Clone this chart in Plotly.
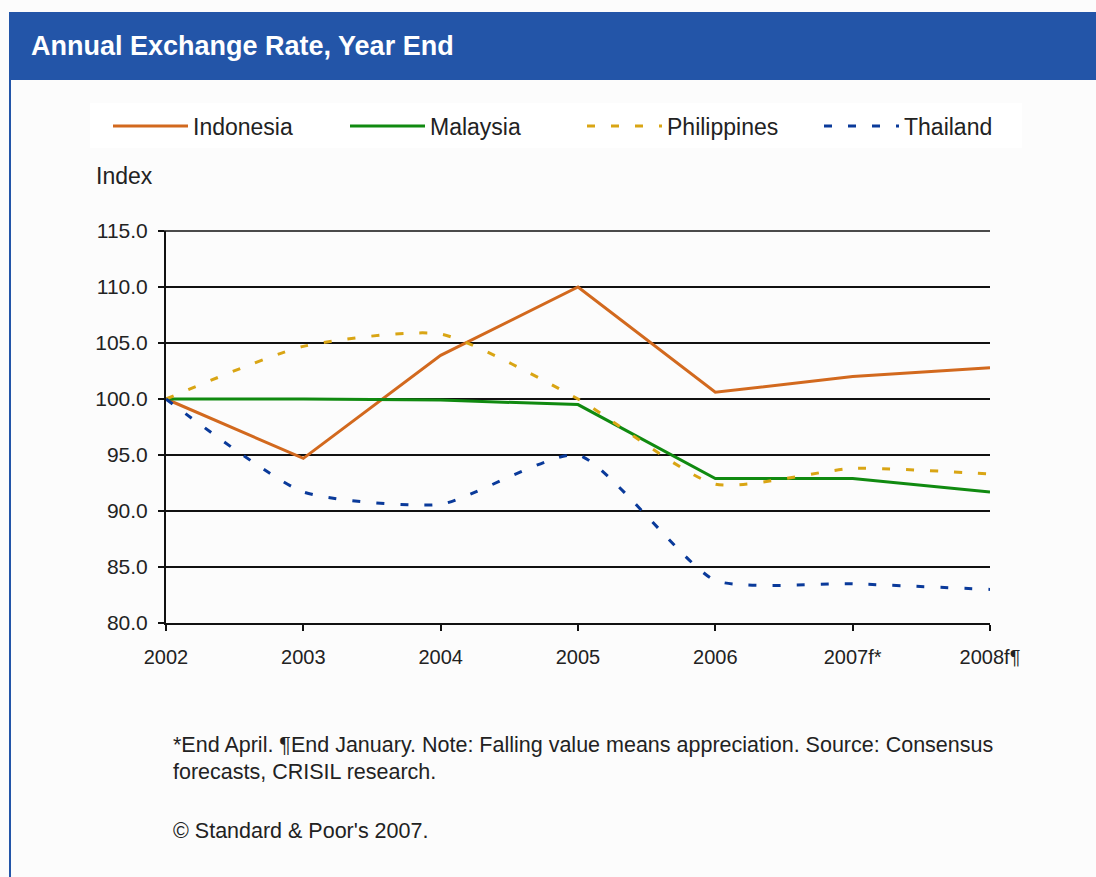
import plotly.graph_objects as go

# ---- data ----
years = [2002, 2003, 2004, 2005, 2006, 2007, 2008]
year_labels = ["2002", "2003", "2004", "2005", "2006", "2007f*", "2008f¶"]
indonesia = [100.0, 94.7, 103.9, 110.0, 100.6, 102.0, 102.8]
malaysia = [100.0, 100.0, 99.9, 99.5, 92.9, 92.9, 91.7]
philippines = [100.0, 104.7, 105.8, 100.0, 92.4, 93.8, 93.3]
thailand = [100.0, 91.7, 90.6, 95.0, 83.8, 83.5, 83.0]
y_min, y_max = 80, 115

# ---- layout geometry (pixels) ----
W, H = 1096, 877
L, R, T, B = 166, 990, 231, 623
PW, PH = R - L, B - T

def px(x):
    return (x - L) / PW

def py(y):
    return (B - y) / PH

FONT = "Liberation Sans, Arial, sans-serif"
TXT = "#222222"
BG = "#FCFCFC"

fig = go.Figure()
fig.add_trace(go.Scatter(x=years, y=indonesia, name="Indonesia", mode="lines",
                         line=dict(color="#D2691E", width=3)))
fig.add_trace(go.Scatter(x=years, y=malaysia, name="Malaysia", mode="lines",
                         line=dict(color="#108A10", width=3)))
fig.add_trace(go.Scatter(x=years, y=philippines, name="Philippines", mode="lines",
                         line=dict(color="#D9A514", width=3, dash="8px,16px",
                                   shape="spline", smoothing=0.6)))
fig.add_trace(go.Scatter(x=years, y=thailand, name="Thailand", mode="lines",
                         line=dict(color="#0A3A9A", width=3, dash="8px,16px",
                                   shape="spline", smoothing=0.55)))

shapes = [
    # header bar
    dict(type="rect", xref="paper", yref="paper", x0=px(9), x1=px(W + 5),
         y0=py(80), y1=py(12), fillcolor="#2355A8", line=dict(width=0), layer="below"),
    # left border
    dict(type="line", xref="paper", yref="paper", x0=px(10), x1=px(10),
         y0=py(80), y1=py(H + 5), line=dict(color="#2355A8", width=2)),
    # legend background box
    dict(type="rect", xref="paper", yref="paper", x0=px(90), x1=px(1022),
         y0=py(148), y1=py(103), fillcolor="#FFFFFF", line=dict(width=0), layer="below"),
    # top gridline at the maximum of the range (top edge of the plot area)
    dict(type="line", xref="paper", yref="paper", x0=-6 / PW, x1=1, y0=1, y1=1,
         line=dict(color="#111111", width=1.5), layer="below"),
]

annotations = [
    dict(text="<b>Annual Exchange Rate, Year End</b>", xref="paper", yref="paper",
         x=px(29), y=py(46), xanchor="left", yanchor="middle", showarrow=False,
         font=dict(family=FONT, size=27, color="white")),
    dict(text="Index", xref="paper", yref="paper", x=px(94), y=py(176),
         xanchor="left", yanchor="middle", showarrow=False,
         font=dict(family=FONT, size=23, color=TXT)),
    dict(text="*End April. ¶End January. Note: Falling value means appreciation. Source: Consensus",
         xref="paper", yref="paper", x=px(171), y=py(745), xanchor="left", yanchor="middle",
         showarrow=False, font=dict(family=FONT, size=21.5, color=TXT)),
    dict(text="forecasts, CRISIL research.", xref="paper", yref="paper", x=px(171), y=py(772),
         xanchor="left", yanchor="middle", showarrow=False,
         font=dict(family=FONT, size=21.5, color=TXT)),
    dict(text="© Standard & Poor's 2007.", xref="paper", yref="paper", x=px(171), y=py(831),
         xanchor="left", yanchor="middle", showarrow=False,
         font=dict(family=FONT, size=21.5, color=TXT)),
]

fig.update_layout(
    width=W, height=H,
    margin=dict(l=L, r=W - R, t=T, b=H - B, pad=0),
    paper_bgcolor=BG,
    plot_bgcolor=BG,
    font=dict(family=FONT, size=18, color=TXT),
    showlegend=True,
    legend=dict(orientation="h", x=px(108), y=py(126), xanchor="left", yanchor="middle",
                bgcolor="rgba(0,0,0,0)", itemwidth=75, font=dict(size=23, family=FONT),
                tracegroupgap=0, entrywidth=147, entrywidthmode="pixels"),
    shapes=shapes,
    annotations=annotations,
    xaxis=dict(range=[years[0], years[-1]], tickvals=years, ticktext=year_labels,
               showgrid=False, zeroline=False, showline=True, linecolor="#111111",
               linewidth=2, ticks="outside", ticklen=6, tickcolor="#111111",
               tickwidth=2, tickfont=dict(size=20, family=FONT), ticklabelstandoff=9),
    yaxis=dict(range=[y_min, y_max], dtick=5, tick0=y_min, tickformat=".1f",
               showgrid=True, gridcolor="#111111", gridwidth=1.5, zeroline=False,
               showline=True, linecolor="#111111", linewidth=2, ticks="outside",
               ticklen=6, tickcolor="#111111", tickwidth=2,
               tickfont=dict(size=21, family=FONT), ticklabelstandoff=6),
)

fig.write_html("out.html")
